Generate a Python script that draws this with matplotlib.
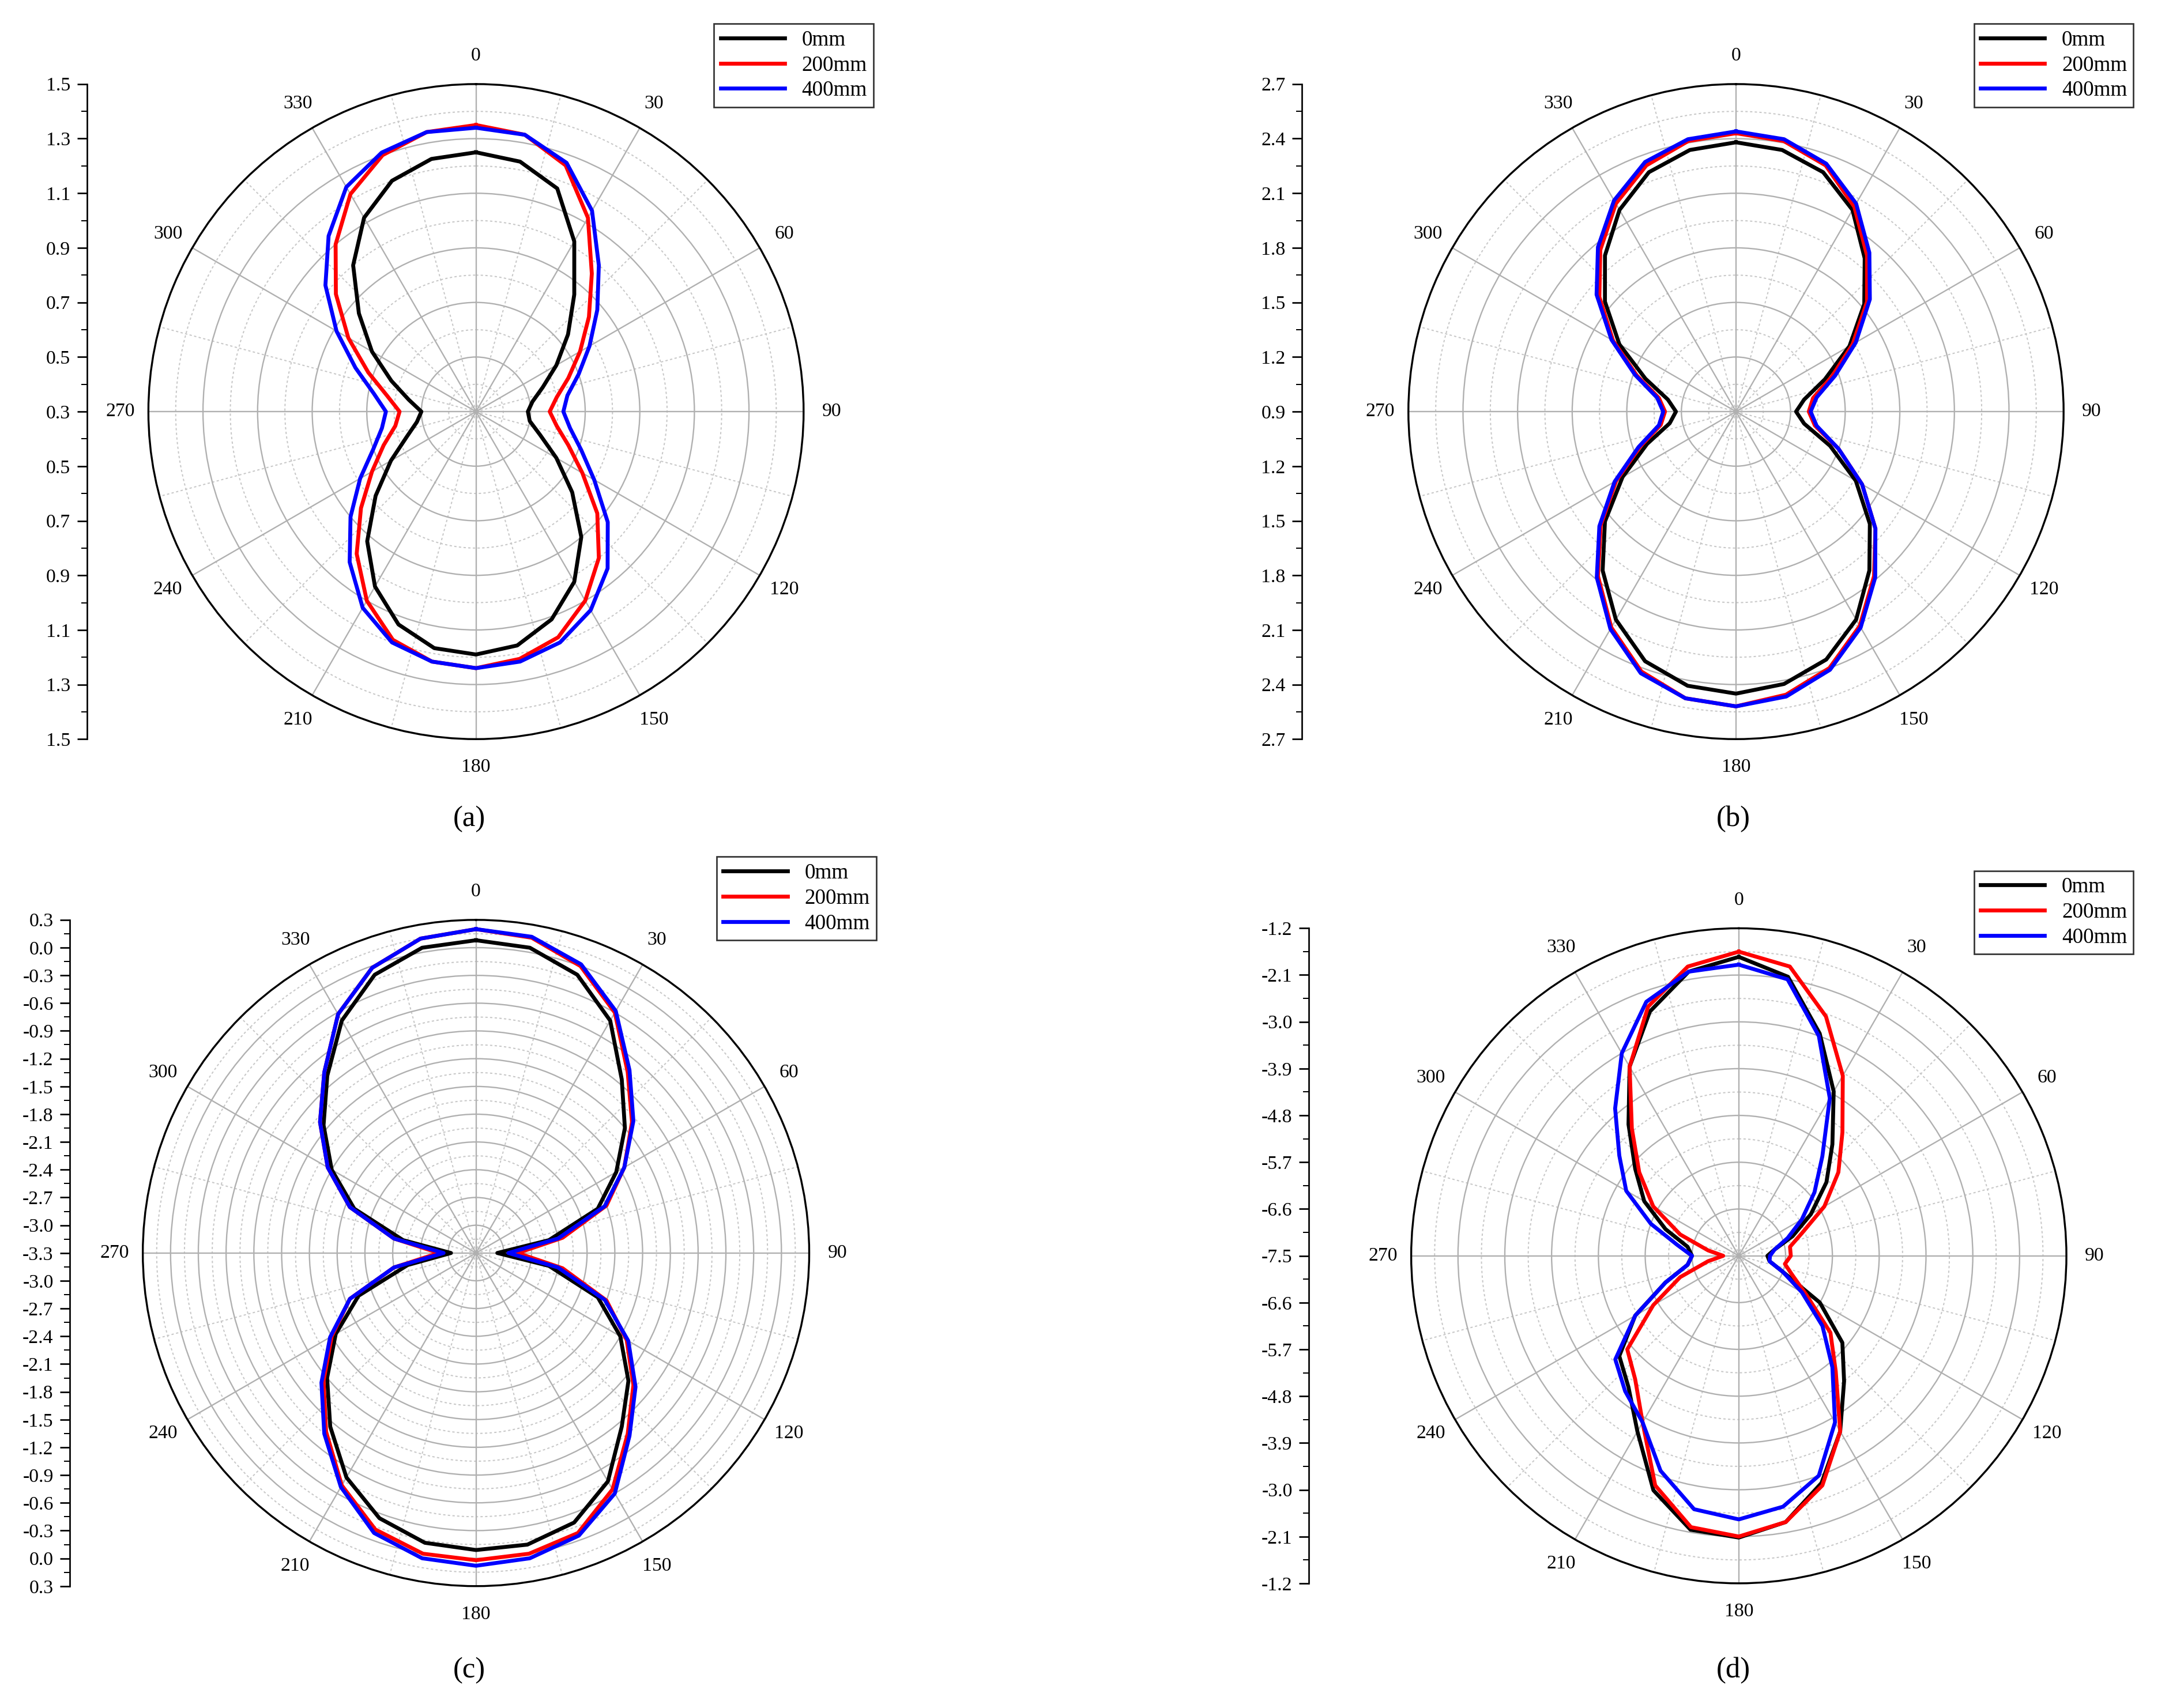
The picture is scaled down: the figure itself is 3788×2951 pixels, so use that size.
import numpy as np
import matplotlib
matplotlib.use("Agg")
import matplotlib.pyplot as plt

plt.rcParams['font.family'] = ['Liberation Serif', 'DejaVu Serif']

angles_deg = list(range(0, 361, 10))

a_0 = [1.25,1.23,1.17,1.02,0.86,0.74,0.64,0.56,0.51,0.49, 0.5,0.55,0.64,0.76,0.9,1.02,1.11,1.17,1.19,
       1.18,1.13,1.04,0.92,0.78,0.66,0.57,0.52, 0.5, 0.55,0.63,0.74,0.86,1.0,1.12,1.2,1.24, 1.25]
a_200 = [1.35,1.33,1.26,1.12,0.96,0.84,0.74,0.66,0.6,0.57, 0.6,0.66,0.75,0.88,1.0,1.1,1.18,1.22,1.24,
         1.23,1.19,1.1,0.98,0.85,0.74,0.66,0.6, 0.58, 0.63,0.72,0.84,0.97,1.1,1.22,1.3,1.34, 1.35]
a_400 = [1.34,1.33,1.27,1.15,1.0,0.88,0.78,0.7,0.64,0.62, 0.65,0.71,0.8,0.93,1.05,1.14,1.2,1.23,1.24,
         1.23,1.2,1.13,1.02,0.9,0.79,0.7,0.65, 0.63, 0.68,0.77,0.89,1.02,1.14,1.25,1.31,1.34, 1.34]

b_0 = [2.38,2.36,2.3,2.18,2.0,1.82,1.62,1.42,1.28,1.23, 1.28,1.45,1.66,1.86,2.04,2.22,2.35,2.42,2.45,
       2.43,2.36,2.22,2.04,1.84,1.62,1.42,1.27, 1.23, 1.28,1.43,1.64,1.84,2.02,2.18,2.3,2.36, 2.38]
b_200 = [2.43,2.41,2.34,2.2,2.02,1.84,1.64,1.46,1.33,1.3, 1.34,1.5,1.7,1.9,2.08,2.26,2.4,2.48,2.52,
         2.5,2.42,2.27,2.08,1.87,1.66,1.46,1.32, 1.29, 1.33,1.48,1.68,1.88,2.06,2.22,2.34,2.41, 2.43]
b_400 = [2.44,2.42,2.35,2.22,2.04,1.86,1.66,1.48,1.35,1.31, 1.35,1.5,1.7,1.9,2.09,2.27,2.41,2.49,2.52,
         2.5,2.43,2.28,2.09,1.88,1.67,1.47,1.33, 1.3, 1.34,1.49,1.69,1.9,2.08,2.24,2.36,2.42, 2.44]

c_0 = [0.08,0.05,-0.1,-0.4,-0.85,-1.2,-1.55,-1.9,-2.5,-3.07, -2.5,-1.9,-1.5,-1.15,-0.85,-0.45,-0.2,-0.1,-0.09,
       -0.12,-0.25,-0.5,-0.85,-1.2,-1.55,-1.95,-2.55, -3.03, -2.5,-1.9,-1.5,-1.15,-0.8,-0.4,-0.1,0.05, 0.08]
c_200 = [0.2,0.16,0.0,-0.3,-0.75,-1.1,-1.45,-1.8,-2.35,-2.85, -2.35,-1.8,-1.42,-1.08,-0.75,-0.35,-0.08,0.0,0.02,
         0.0,-0.12,-0.4,-0.78,-1.15,-1.5,-1.85,-2.4, -2.9, -2.4,-1.85,-1.45,-1.1,-0.75,-0.32,-0.02,0.15, 0.2]
c_400 = [0.2,0.17,0.02,-0.28,-0.72,-1.08,-1.45,-1.82,-2.4,-2.95, -2.4,-1.82,-1.4,-1.05,-0.72,-0.3,-0.05,0.05,0.08,
         0.05,-0.08,-0.38,-0.75,-1.12,-1.48,-1.85,-2.4, -2.95, -2.4,-1.85,-1.45,-1.1,-0.75,-0.32,-0.02,0.15, 0.2]

d_0 = [-1.75,-2.05,-2.95,-3.85,-4.7,-5.3,-5.9,-6.4,-6.8,-6.95, -6.9,-6.6,-5.7,-4.9,-4.35,-3.6,-2.85,-2.3,-2.08,
       -2.15,-2.7,-3.6,-4.2,-4.5,-5.2,-6.0,-6.5, -6.6, -6.5,-6.0,-5.4,-4.9,-4.2,-3.3,-2.5,-1.95, -1.75]
d_200 = [-1.65,-1.85,-2.6,-3.5,-4.4,-5.0,-5.6,-6.2,-6.5,-6.5, -6.6,-6.4,-6.0,-5.2,-4.6,-3.6,-2.8,-2.3,-2.1,
         -2.2,-2.8,-3.8,-4.4,-4.7,-5.6,-6.3,-6.9, -7.2, -6.9,-6.3,-5.6,-5.0,-4.3,-3.3,-2.4,-1.85, -1.65]
d_400 = [-1.9,-2.1,-3.0,-4.0,-5.0,-5.6,-6.1,-6.5,-6.8,-6.9, -6.9,-6.6,-6.1,-5.4,-4.7,-3.8,-3.0,-2.6,-2.43,
         -2.55,-3.1,-3.8,-4.1,-4.4,-5.2,-6.0,-6.5, -6.6, -6.3,-5.7,-5.0,-4.5,-3.8,-3.0,-2.3,-1.95, -1.9]

series_labels = ['0mm', '200mm', '400mm']
series_colors = ['black', 'red', 'blue']

panels = [
    dict(data=[a_0, a_200, a_400], rmin=0.3, rmax=1.5, step=0.2, cx=340, cy=294, R=234, axx=62,
         leg=(510, 17, 645, 105), lab='a', labxy=(335, 585)),
    dict(data=[b_0, b_200, b_400], rmin=0.9, rmax=2.7, step=0.3, cx=1240, cy=294, R=234, axx=930,
         leg=(1410, 17, 1548, 105), lab='b', labxy=(1238, 585)),
    dict(data=[c_0, c_200, c_400], rmin=-3.3, rmax=0.3, step=0.3, cx=340, cy=895, R=238, axx=50,
         leg=(512, 612, 651, 702), lab='c', labxy=(335, 1193)),
    dict(data=[d_0, d_200, d_400], rmin=-7.5, rmax=-1.2, step=0.9, cx=1242, cy=897, R=234, axx=935,
         leg=(1410, 622, 1548, 710), lab='d', labxy=(1238, 1193)),
]

W, H = 1560.0, 1215.0
fig = plt.figure(figsize=(3788/243, 2951/243), dpi=243)

for p in panels:
    cx, cy, R = p['cx'], p['cy'], p['R']
    rect = [(cx - R)/W, 1 - (cy + R)/H, 2*R/W, 2*R/H]
    ax = fig.add_axes(rect, projection='polar')
    ax.set_theta_zero_location('N')
    ax.set_theta_direction(-1)
    rmin, rmax, step = p['rmin'], p['rmax'], p['step']
    ax.set_ylim(rmin, rmax)
    nmaj = int(round((rmax - rmin)/step))
    majors = [rmin + i*step for i in range(nmaj + 1)]
    ax.set_yticks(majors[1:-1])
    ax.set_yticklabels([])
    ax.set_thetagrids(range(0, 360, 30), [str(t) for t in range(0, 360, 30)], fontsize=10)
    ax.tick_params(axis='x', pad=4)
    ax.grid(True, color='#b0b0b0', lw=0.7, ls='-')
    th = np.linspace(0, 2*np.pi, 400)
    for i in range(nmaj):
        ax.plot(th, np.full_like(th, rmin + (i + 0.5)*step), color='#c8c8c8', lw=0.6, ls=(0, (2, 2)), zorder=1)
    for t in range(15, 360, 30):
        ax.plot([np.deg2rad(t)]*2, [rmin, rmax], color='#c8c8c8', lw=0.6, ls=(0, (2, 2)), zorder=1)
    ax.spines['polar'].set_color('black')
    ax.spines['polar'].set_linewidth(1.0)
    th_data = np.deg2rad(angles_deg)
    lines = []
    for vals, lbl, col in zip(p['data'], series_labels, series_colors):
        ln, = ax.plot(th_data, vals, color=col, lw=2.0, label=lbl, zorder=3)
        lines.append(ln)
    ax.set_ylim(rmin, rmax)

    # left linear axis
    lax = fig.add_axes([p['axx']/W, 1 - (cy + R)/H, 0.001, 2*R/H])
    span = rmax - rmin
    lax.set_ylim(-span, span)
    lax.set_xlim(0, 1)
    for s in ['top', 'right', 'bottom']:
        lax.spines[s].set_visible(False)
    lax.set_xticks([])
    pos = [m - rmin for m in majors]
    tpos = [-x for x in pos[::-1]] + pos[1:]
    tlab = majors[::-1] + majors[1:]
    lax.set_yticks(tpos)
    lax.set_yticklabels([f'{v:.1f}' for v in tlab], fontsize=10)
    minors = [(i + 0.5)*step for i in range(nmaj)]
    lax.set_yticks([-m for m in minors] + minors, minor=True)
    lax.tick_params(axis='y', which='major', length=5, direction='out')
    lax.tick_params(axis='y', which='minor', length=3, direction='out')
    lax.patch.set_visible(False)

    # legend
    x0, y0, x1, y1 = p['leg']
    lg = fig.legend(handles=lines, labels=series_labels, loc='upper left',
                    bbox_to_anchor=(x0/W, 1 - y0/H), fontsize=11, frameon=True,
                    fancybox=False, edgecolor='black', borderpad=0.3, handlelength=3.0,
                    labelspacing=0.25, borderaxespad=0)
    lg.get_frame().set_linewidth(0.8)
    for t in lg.get_texts():
        t.set_ha('right')
    lx, ly = p['labxy']
    fig.text(lx/W, 1 - ly/H, f"({p['lab']})", fontsize=15, ha='center', va='center')
    fig.text(lx/W, 1 - ly/H, f"  {p['lab']}  ", fontsize=15, ha='center', va='center',
             fontweight='bold', alpha=0)

# bold letter inside parentheses
for t in list(fig.texts):
    pass

fig.savefig('out.png', dpi=243)
